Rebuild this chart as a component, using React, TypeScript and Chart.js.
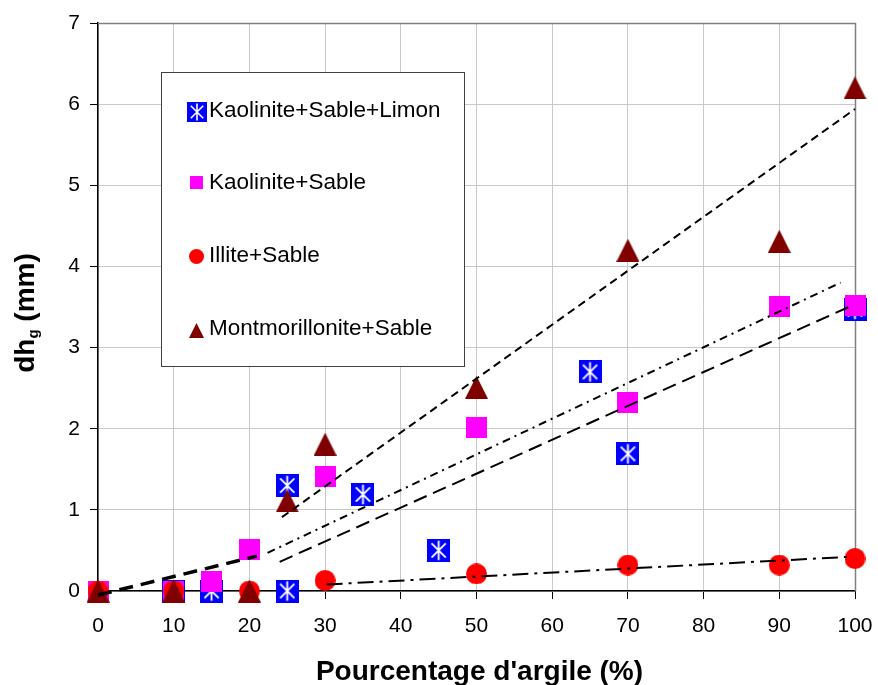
import React, { useEffect, useRef } from "react";
import { Chart, registerables } from "chart.js";

Chart.register(...registerables);

const FONT = '"Liberation Sans", Arial, Helvetica, sans-serif';

// ---- Data ----
const seriesNames = [
  "Kaolinite+Sable+Limon",
  "Kaolinite+Sable",
  "Illite+Sable",
  "Montmorillonite+Sable",
];

const kslX = [10, 15, 25, 25, 35, 45, 65, 70, 100];
const kslY = [0, 0, 1.3, 0, 1.19, 0.5, 2.7, 1.69, 3.47];

const ksX = [0, 10, 15, 20, 30, 50, 70, 90, 100];
const ksY = [0, 0, 0.12, 0.51, 1.41, 2.02, 2.32, 3.51, 3.52];

const ilX = [0, 10, 20, 30, 50, 70, 90, 100];
const ilY = [0, 0, 0, 0.13, 0.21, 0.32, 0.32, 0.4];

const msX = [0, 10, 20, 25, 30, 50, 70, 90, 100];
const msY = [0, 0, 0, 1.11, 1.81, 2.51, 4.2, 4.31, 6.2];

// Trend lines (start / end points)
const trendKsLowX = [0, 21];
const trendKsLowY = [-0.05, 0.43];
const trendKsX = [22.4, 98.1];
const trendKsY = [0.47, 3.8];
const trendKslX = [24, 99.9];
const trendKslY = [0.36, 3.53];
const trendMsX = [24.3, 100];
const trendMsY = [0.91, 5.94];
const trendIlX = [30.2, 99];
const trendIlY = [0.08, 0.42];

const xMin = 0;
const xMax = 100;
const xStep = 10;
const yMin = 0;
const yMax = 7;
const yStep = 1;

const xTitle = "Pourcentage d'argile (%)";
const yTitleMain = "dh";
const yTitleSub = "g";
const yTitleRest = " (mm)";

function pts(xs: number[], ys: number[]) {
  return xs.map((x, i) => ({ x, y: ys[i] }));
}

function makeMarker(kind: string, size: number): HTMLCanvasElement {
  const c = document.createElement("canvas");
  c.width = size;
  c.height = size;
  const g = c.getContext("2d")!;
  if (kind === "star") {
    g.fillStyle = "#0000FF";
    g.fillRect(0, 0, size, size);
    g.strokeStyle = "#FFFFFF";
    g.lineWidth = Math.max(1.5, size * 0.08);
    const cx = size / 2;
    const r = size * 0.42;
    const d = size * 0.31;
    g.beginPath();
    g.moveTo(cx, cx - r);
    g.lineTo(cx, cx + r);
    g.moveTo(cx - d, cx - d);
    g.lineTo(cx + d, cx + d);
    g.moveTo(cx + d, cx - d);
    g.lineTo(cx - d, cx + d);
    g.stroke();
  } else if (kind === "square") {
    g.fillStyle = "#FF00FF";
    g.fillRect(0, 0, size, size);
  } else if (kind === "circle") {
    g.fillStyle = "#FF0000";
    g.beginPath();
    g.arc(size / 2, size / 2, size / 2, 0, Math.PI * 2);
    g.fill();
  } else if (kind === "triangle") {
    g.fillStyle = "#800000";
    g.beginPath();
    g.moveTo(size / 2, 0);
    g.lineTo(size, size);
    g.lineTo(0, size);
    g.closePath();
    g.fill();
  }
  return c;
}

export default function App() {
  const ref = useRef<HTMLCanvasElement | null>(null);

  useEffect(() => {
    document.body.style.margin = "0";
    const canvas = ref.current;
    if (!canvas) return;

    const markerKinds = ["star", "square", "circle", "triangle"];
    const plotSizes = [23, 21, 21, 23];
    const legendSizes = [20, 13, 15, 15];
    const plotMarkers = markerKinds.map((k, i) => makeMarker(k, plotSizes[i]));
    const legendMarkers = markerKinds.map((k, i) => makeMarker(k, legendSizes[i]));

    const frameAndTitles = {
      id: "frameAndTitles",
      beforeDatasetsDraw(chart: any) {
        const { ctx, chartArea } = chart;
        ctx.save();
        ctx.strokeStyle = "#808080";
        ctx.lineWidth = 1.5;
        ctx.beginPath();
        ctx.moveTo(chartArea.left, chartArea.top + 0.5);
        ctx.lineTo(chartArea.right + 0.5, chartArea.top + 0.5);
        ctx.lineTo(chartArea.right + 0.5, chartArea.bottom);
        ctx.stroke();
        ctx.restore();
      },
      afterDraw(chart: any) {
        const { ctx, chartArea } = chart;
        ctx.save();
        // Legend box
        const lx = 161.5, ly = 72.5, lw = 303, lh = 294;
        ctx.fillStyle = "#FFFFFF";
        ctx.fillRect(lx, ly, lw, lh);
        ctx.strokeStyle = "#404040";
        ctx.lineWidth = 1;
        ctx.strokeRect(lx, ly, lw, lh);
        const rowMarkerY = [112, 182, 256, 330];
        const rowTextBase = [116.5, 189, 262, 335];
        ctx.font = `22.5px ${FONT}`;
        ctx.fillStyle = "#000";
        ctx.textAlign = "left";
        ctx.textBaseline = "alphabetic";
        seriesNames.forEach((name, i) => {
          const m = legendMarkers[i];
          ctx.drawImage(m, Math.round(196.5 - m.width / 2), Math.round(rowMarkerY[i] - m.height / 2));
          ctx.fillText(name, 209, rowTextBase[i]);
        });

        // X title
        ctx.font = `bold 28px ${FONT}`;
        ctx.textAlign = "center";
        ctx.fillText(xTitle, (chartArea.left + chartArea.right) / 2 + 3, 680);

        // Y title (rotated, with subscript)
        const mainFont = `bold 28px ${FONT}`;
        const subFont = `bold 15px ${FONT}`;
        ctx.font = mainFont;
        const w1 = ctx.measureText(yTitleMain).width;
        const w3 = ctx.measureText(yTitleRest).width;
        ctx.font = subFont;
        const w2 = ctx.measureText(yTitleSub).width;
        const total = w1 + w2 + w3;
        ctx.translate(34, 313);
        ctx.rotate(-Math.PI / 2);
        ctx.textAlign = "left";
        let x = -total / 2;
        ctx.font = mainFont;
        ctx.fillText(yTitleMain, x, 0);
        x += w1;
        ctx.font = subFont;
        ctx.fillText(yTitleSub, x, 4);
        x += w2;
        ctx.font = mainFont;
        ctx.fillText(yTitleRest, x, 0);
        ctx.restore();
      },
    };

    const scatterSet = (i: number, xs: number[], ys: number[], order: number) => ({
      label: seriesNames[i],
      data: pts(xs, ys),
      showLine: false,
      pointStyle: plotMarkers[i],
      pointRadius: 12,
      pointHoverRadius: 12,
      clip: false,
      order,
    });

    const trendSet = (xs: number[], ys: number[], width: number, dash: number[]) => ({
      label: "",
      data: pts(xs, ys),
      showLine: true,
      borderColor: "#000000",
      borderWidth: width,
      borderDash: dash,
      pointRadius: 0,
      pointHoverRadius: 0,
      fill: false,
      clip: false,
      order: 0,
    });

    const chart = new Chart(canvas, {
      type: "scatter",
      data: {
        datasets: [
          scatterSet(0, kslX, kslY, 4),
          scatterSet(1, ksX, ksY, 3),
          scatterSet(2, ilX, ilY, 2),
          scatterSet(3, msX, msY, 1),
          trendSet(trendKsLowX, trendKsLowY, 3.5, [14, 8]),
          trendSet(trendKsX, trendKsY, 2, [8, 5, 2, 5]),
          trendSet(trendKslX, trendKslY, 2, [14, 7]),
          trendSet(trendMsX, trendMsY, 2, [8, 5]),
          trendSet(trendIlX, trendIlY, 2, [16, 6, 3, 6]),
        ] as any,
      },
      options: {
        responsive: false,
        animation: false,
        events: [],
        layout: { padding: { top: 23, right: 23, left: 0, bottom: 0 } },
        plugins: {
          legend: { display: false },
          tooltip: { enabled: false },
          title: { display: false },
        },
        scales: {
          x: {
            type: "linear",
            min: xMin,
            max: xMax,
            afterFit: (s: any) => {
              s.height = 94;
              s.paddingLeft = 0;
              s.paddingRight = 0;
            },
            ticks: {
              stepSize: xStep,
              color: "#000",
              font: { family: FONT, size: 21 },
              padding: 15,
              maxRotation: 0,
            },
            grid: {
              color: "#C8C8C8",
              lineWidth: 1,
              tickColor: "#000",
              tickLength: 8,
              drawTicks: true,
            },
            border: { color: "#000", width: 1.5 },
            title: { display: false },
          },
          y: {
            type: "linear",
            min: yMin,
            max: yMax,
            afterFit: (s: any) => {
              s.width = 98;
              s.paddingTop = 0;
              s.paddingBottom = 0;
            },
            ticks: {
              stepSize: yStep,
              color: "#000",
              font: { family: FONT, size: 21 },
              padding: 10,
            },
            grid: {
              color: "#C8C8C8",
              lineWidth: 1,
              tickColor: "#000",
              tickLength: 8,
              drawTicks: true,
            },
            border: { color: "#000", width: 1.5 },
            title: { display: false },
          },
        },
      },
      plugins: [frameAndTitles],
    });

    return () => {
      chart.destroy();
    };
  }, []);

  return (
    <div style={{ width: 878, height: 685, background: "#fff" }}>
      <canvas ref={ref} width={878} height={685} />
    </div>
  );
}
